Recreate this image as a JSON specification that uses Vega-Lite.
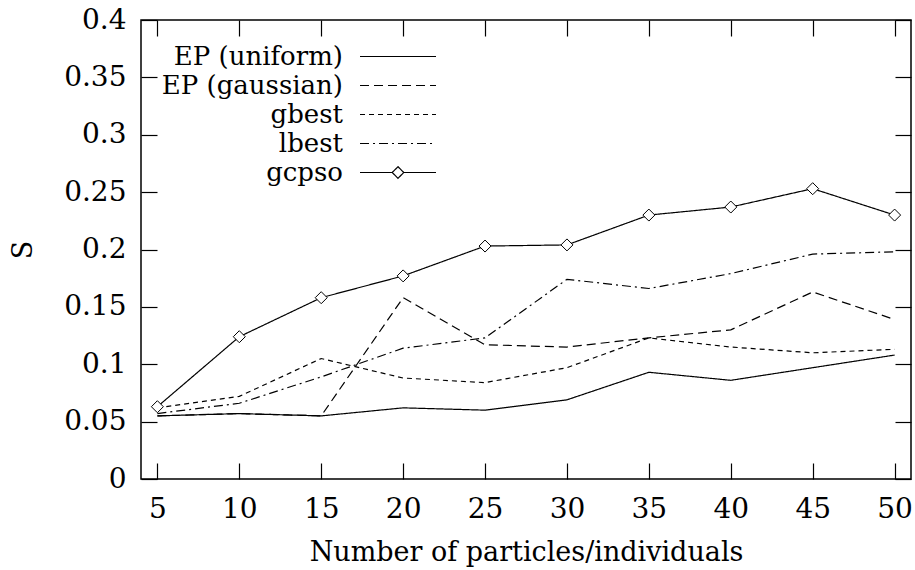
{
  "$schema": "https://vega.github.io/schema/vega-lite/v6.json",
  "width": 770,
  "height": 459,
  "autosize": {"type": "none"},
  "padding": {"left": 141, "top": 20, "right": 4, "bottom": 91},
  "background": "white",
  "config": {
    "font": "DejaVu Serif",
    "view": {"stroke": "black", "strokeWidth": 1.5},
    "axis": {
      "domain": false,
      "grid": false,
      "tickColor": "black",
      "tickSize": -16,
      "tickWidth": 1.2,
      "labelFont": "DejaVu Serif",
      "labelFontSize": 28,
      "labelColor": "black",
      "labelFlush": false,
      "labelOverlap": false,
      "titleFont": "DejaVu Serif",
      "titleFontSize": 27,
      "titleFontWeight": "normal",
      "titleColor": "black"
    },
    "legend": {
      "orient": "none",
      "legendX": 241.5,
      "legendY": 21,
      "direction": "vertical",
      "padding": 0,
      "offset": 0,
      "symbolSize": 841,
      "symbolStrokeWidth": 1.2,
      "symbolStrokeColor": "black",
      "labelFont": "DejaVu Serif",
      "labelFontSize": 26,
      "labelColor": "black",
      "labelAlign": "right",
      "labelOffset": -70.5,
      "labelLimit": 400,
      "rowPadding": 0
    }
  },
  "data": {
    "values": [
      {"series": "EP (uniform)", "n": 5, "S": 0.055},
      {"series": "EP (uniform)", "n": 10, "S": 0.057},
      {"series": "EP (uniform)", "n": 15, "S": 0.055},
      {"series": "EP (uniform)", "n": 20, "S": 0.062},
      {"series": "EP (uniform)", "n": 25, "S": 0.060},
      {"series": "EP (uniform)", "n": 30, "S": 0.069},
      {"series": "EP (uniform)", "n": 35, "S": 0.093},
      {"series": "EP (uniform)", "n": 40, "S": 0.086},
      {"series": "EP (uniform)", "n": 45, "S": 0.097},
      {"series": "EP (uniform)", "n": 50, "S": 0.108},
      {"series": "EP (gaussian)", "n": 5, "S": 0.055},
      {"series": "EP (gaussian)", "n": 10, "S": 0.057},
      {"series": "EP (gaussian)", "n": 15, "S": 0.055},
      {"series": "EP (gaussian)", "n": 20, "S": 0.158},
      {"series": "EP (gaussian)", "n": 25, "S": 0.117},
      {"series": "EP (gaussian)", "n": 30, "S": 0.115},
      {"series": "EP (gaussian)", "n": 35, "S": 0.123},
      {"series": "EP (gaussian)", "n": 40, "S": 0.130},
      {"series": "EP (gaussian)", "n": 45, "S": 0.163},
      {"series": "EP (gaussian)", "n": 50, "S": 0.139},
      {"series": "gbest", "n": 5, "S": 0.062},
      {"series": "gbest", "n": 10, "S": 0.072},
      {"series": "gbest", "n": 15, "S": 0.105},
      {"series": "gbest", "n": 20, "S": 0.088},
      {"series": "gbest", "n": 25, "S": 0.084},
      {"series": "gbest", "n": 30, "S": 0.097},
      {"series": "gbest", "n": 35, "S": 0.123},
      {"series": "gbest", "n": 40, "S": 0.115},
      {"series": "gbest", "n": 45, "S": 0.110},
      {"series": "gbest", "n": 50, "S": 0.113},
      {"series": "lbest", "n": 5, "S": 0.057},
      {"series": "lbest", "n": 10, "S": 0.066},
      {"series": "lbest", "n": 15, "S": 0.089},
      {"series": "lbest", "n": 20, "S": 0.114},
      {"series": "lbest", "n": 25, "S": 0.123},
      {"series": "lbest", "n": 30, "S": 0.174},
      {"series": "lbest", "n": 35, "S": 0.166},
      {"series": "lbest", "n": 40, "S": 0.179},
      {"series": "lbest", "n": 45, "S": 0.196},
      {"series": "lbest", "n": 50, "S": 0.198},
      {"series": "gcpso", "n": 5, "S": 0.063},
      {"series": "gcpso", "n": 10, "S": 0.124},
      {"series": "gcpso", "n": 15, "S": 0.158},
      {"series": "gcpso", "n": 20, "S": 0.177},
      {"series": "gcpso", "n": 25, "S": 0.203},
      {"series": "gcpso", "n": 30, "S": 0.204},
      {"series": "gcpso", "n": 35, "S": 0.230},
      {"series": "gcpso", "n": 40, "S": 0.237},
      {"series": "gcpso", "n": 45, "S": 0.253},
      {"series": "gcpso", "n": 50, "S": 0.230}
    ]
  },
  "layer": [
    {
      "mark": {"type": "line", "stroke": "black", "strokeWidth": 1.2},
      "encoding": {
        "x": {
          "field": "n",
          "type": "quantitative",
          "scale": {"domain": [4, 51], "nice": false, "zero": false},
          "axis": {
            "orient": "bottom",
            "values": [5, 10, 15, 20, 25, 30, 35, 40, 45, 50],
            "labelPadding": 32,
            "title": "Number of particles/individuals",
            "titlePadding": 16
          }
        },
        "y": {
          "field": "S",
          "type": "quantitative",
          "scale": {"domain": [0, 0.4], "nice": false},
          "axis": {
            "orient": "left",
            "values": [0, 0.05, 0.1, 0.15, 0.2, 0.25, 0.3, 0.35, 0.4],
            "format": ".2~f",
            "labelPadding": 31,
            "title": "S",
            "titlePadding": 26
          }
        },
        "strokeDash": {
          "field": "series",
          "type": "nominal",
          "scale": {
            "domain": ["EP (uniform)", "EP (gaussian)", "gbest", "lbest", "gcpso"],
            "range": [[1, 0], [9, 5], [5, 4], [9, 4, 2, 4], [1, 0]]
          },
          "legend": {"title": null}
        }
      }
    },
    {
      "transform": [{"filter": "datum.series === 'gcpso'"}],
      "mark": {"type": "point", "shape": "diamond", "filled": true, "fill": "white", "stroke": "black", "strokeWidth": 1, "size": 144, "opacity": 1},
      "encoding": {
        "x": {
          "field": "n",
          "type": "quantitative",
          "axis": {"orient": "top", "labels": false, "values": [5, 10, 15, 20, 25, 30, 35, 40, 45, 50], "title": null}
        },
        "y": {
          "field": "S",
          "type": "quantitative",
          "axis": {"orient": "right", "labels": false, "values": [0, 0.05, 0.1, 0.15, 0.2, 0.25, 0.3, 0.35, 0.4], "title": null}
        }
      }
    },
    {
      "transform": [{"filter": "false"}],
      "mark": {"type": "point", "stroke": "black", "strokeWidth": 1.2, "opacity": 1},
      "encoding": {
        "shape": {
          "field": "series",
          "type": "nominal",
          "scale": {
            "domain": ["EP (uniform)", "EP (gaussian)", "gbest", "lbest", "gcpso"],
            "range": ["M-2.62,0H2.62", "M-2.62,0H2.62", "M-2.62,0H2.62", "M-2.62,0H2.62", "M-2.62,0H-0.4M0.4,0H2.62M-0.4,0L0,-0.4L0.4,0L0,0.4Z"]
          },
          "legend": {"title": null}
        }
      }
    }
  ],
  "resolve": {"axis": {"x": "independent", "y": "independent"}}
}
